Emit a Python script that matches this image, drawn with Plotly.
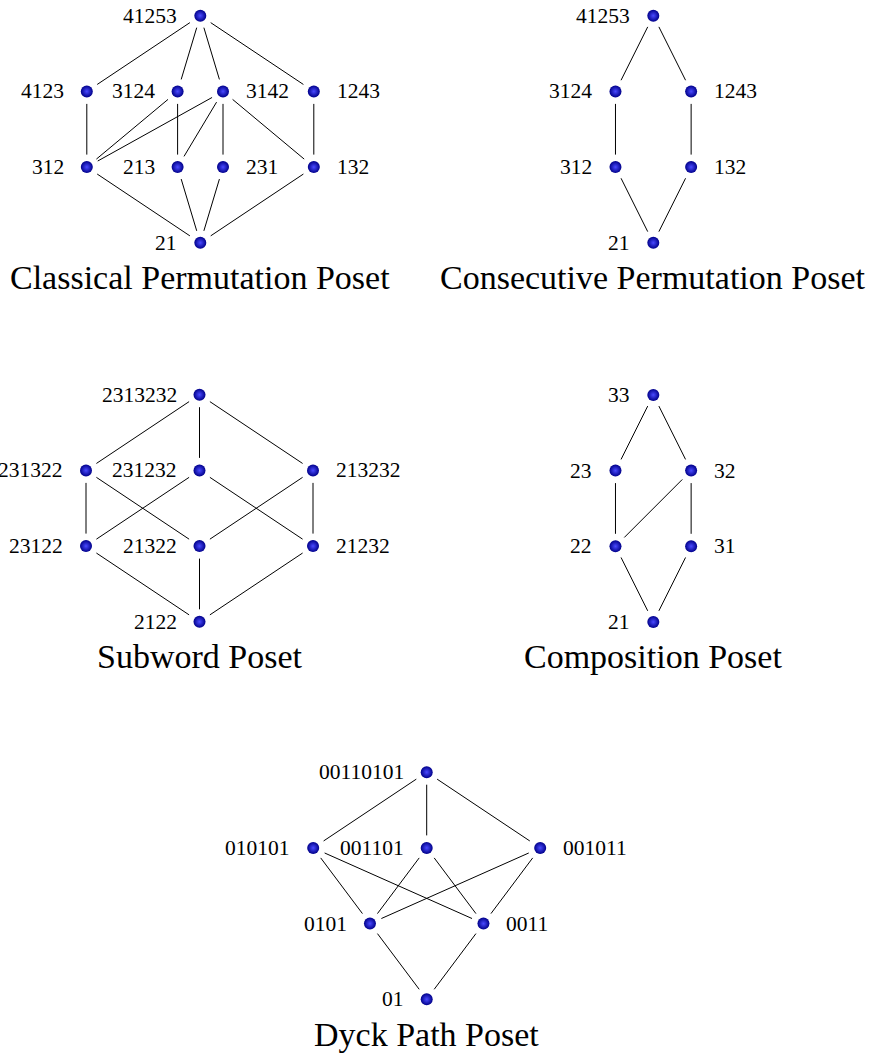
import math
import plotly.graph_objects as go

W, H = 872, 1055

# ---------------- data ----------------
classical_nodes = ["21", "312", "213", "231", "132", "4123", "3124", "3142", "1243", "41253"]
classical_x = [0, -1, -0.2, 0.2, 1, -1, -0.2, 0.2, 1, 0]
classical_rank = [0, 1, 1, 1, 1, 2, 2, 2, 2, 3]
classical_edges = [("41253", "4123"), ("41253", "3124"), ("41253", "3142"), ("41253", "1243"),
                   ("4123", "312"), ("3124", "312"), ("3124", "213"),
                   ("3142", "312"), ("3142", "213"), ("3142", "231"), ("3142", "132"),
                   ("1243", "132"),
                   ("312", "21"), ("213", "21"), ("231", "21"), ("132", "21")]

consecutive_nodes = ["21", "312", "132", "3124", "1243", "41253"]
consecutive_x = [0, -1 / 3, 1 / 3, -1 / 3, 1 / 3, 0]
consecutive_rank = [0, 1, 1, 2, 2, 3]
consecutive_edges = [("41253", "3124"), ("41253", "1243"), ("3124", "312"), ("1243", "132"),
                     ("312", "21"), ("132", "21")]

subword_nodes = ["2122", "23122", "21322", "21232", "231322", "231232", "213232", "2313232"]
subword_x = [0, -1, 0, 1, -1, 0, 1, 0]
subword_rank = [0, 1, 1, 1, 2, 2, 2, 3]
subword_edges = [("2313232", "231322"), ("2313232", "231232"), ("2313232", "213232"),
                 ("231322", "23122"), ("231322", "21322"),
                 ("231232", "23122"), ("231232", "21232"),
                 ("213232", "21322"), ("213232", "21232"),
                 ("23122", "2122"), ("21322", "2122"), ("21232", "2122")]

composition_nodes = ["21", "22", "31", "23", "32", "33"]
composition_x = [0, -1 / 3, 1 / 3, -1 / 3, 1 / 3, 0]
composition_rank = [0, 1, 1, 2, 2, 3]
composition_edges = [("33", "23"), ("33", "32"), ("23", "22"), ("32", "22"), ("32", "31"),
                     ("22", "21"), ("31", "21")]

dyck_nodes = ["01", "0101", "0011", "010101", "001101", "001011", "00110101"]
dyck_x = [0, -0.5, 0.5, -1, 0, 1, 0]
dyck_rank = [0, 1, 1, 2, 2, 2, 3]
dyck_edges = [("00110101", "010101"), ("00110101", "001101"), ("00110101", "001011"),
              ("010101", "0101"), ("010101", "0011"),
              ("001101", "0101"), ("001101", "0011"),
              ("001011", "0101"), ("001011", "0011"),
              ("0101", "01"), ("0011", "01")]

titles = ["Classical Permutation Poset", "Consecutive Permutation Poset",
          "Subword Poset", "Composition Poset", "Dyck Path Poset"]

posets = [
    (classical_nodes, classical_x, classical_rank, classical_edges),
    (consecutive_nodes, consecutive_x, consecutive_rank, consecutive_edges),
    (subword_nodes, subword_x, subword_rank, subword_edges),
    (composition_nodes, composition_x, composition_rank, composition_edges),
    (dyck_nodes, dyck_x, dyck_rank, dyck_edges),
]

# ---------------- layout / style ----------------
SX = 113.5   # px per horizontal unit
SY = 75.7    # px per rank
# screen position (px) of each poset's bottom node
anchors = [(200.3, 242.8), (653.3, 242.8), (199.5, 621.8), (653.3, 622.0), (426.7, 999.3)]
GAP = 12.5   # px gap between edge end and node centre
LABEL_FONT = dict(family="Liberation Serif, Times New Roman, serif", size=21.5, color="#000000")
TITLE_FONT = dict(family="Liberation Serif, Times New Roman, serif", size=34, color="#000000")
TITLE_OFFSET = -0.46

fig = go.Figure()
annotations = []
layout_axes = {}

for i, ((nodes, xs, ranks, edges), title, (cx, by)) in enumerate(zip(posets, titles, anchors), start=1):
    xa = "x" if i == 1 else f"x{i}"
    ya = "y" if i == 1 else f"y{i}"
    pos = {n: (x, r) for n, x, r in zip(nodes, xs, ranks)}

    ex, ey = [], []
    for a, b in edges:
        x0, y0 = pos[a]
        x1, y1 = pos[b]
        dxp, dyp = (x1 - x0) * SX, (y1 - y0) * SY
        L = math.hypot(dxp, dyp)
        f = GAP / L
        ex += [x0 + (x1 - x0) * f, x1 - (x1 - x0) * f, None]
        ey += [y0 + (y1 - y0) * f, y1 - (y1 - y0) * f, None]
    fig.add_trace(go.Scatter(x=ex, y=ey, mode="lines", line=dict(color="black", width=1),
                             hoverinfo="skip", showlegend=False, xaxis=xa, yaxis=ya))

    fig.add_trace(go.Scatter(
        x=xs, y=ranks, mode="markers", text=nodes, hoverinfo="text", showlegend=False,
        marker=dict(size=12, color="#00008a", line=dict(width=0),
                    gradient=dict(type="radial", color="#4a4aff")),
        xaxis=xa, yaxis=ya))

    for n, x, r in zip(nodes, xs, ranks):
        right = x > 0
        annotations.append(dict(
            x=x, y=r, xref=xa, yref=ya, text=n, showarrow=False,
            xanchor="left" if right else "right", yanchor="middle",
            xshift=21 if right else -21, font=LABEL_FONT))

    annotations.append(dict(x=0, y=TITLE_OFFSET, xref=xa, yref=ya, text=title, showarrow=False,
                            xanchor="center", yanchor="middle", font=TITLE_FONT))

    xkey = "xaxis" if i == 1 else f"xaxis{i}"
    ykey = "yaxis" if i == 1 else f"yaxis{i}"
    xax = dict(range=[(0 - cx) / SX, (W - cx) / SX], visible=False, fixedrange=True,
               domain=[0, 1], anchor=ya)
    yax = dict(range=[(by - H) / SY, by / SY], visible=False, fixedrange=True,
               domain=[0, 1], anchor=xa)
    if i > 1:
        xax["overlaying"] = "x"
        yax["overlaying"] = "y"
    layout_axes[xkey] = xax
    layout_axes[ykey] = yax

fig.update_layout(
    width=W, height=H,
    margin=dict(l=0, r=0, t=0, b=0),
    paper_bgcolor="white", plot_bgcolor="white",
    annotations=annotations,
    **layout_axes,
)

fig.write_html("out.html",
               config={"displayModeBar": False},
               post_script="document.body.style.margin='0';document.body.style.overflow='hidden';")
